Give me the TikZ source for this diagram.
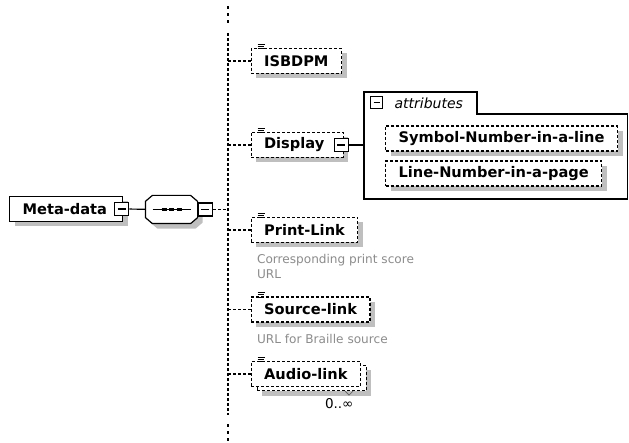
\documentclass[tikz,border=0pt]{standalone}
\usepackage{fontspec}
\setmainfont{DejaVu Sans}
\usetikzlibrary{positioning,shadows}

\newcommand{\notemark}[1]{%
    \draw[line width=.6pt] ([xshift=7pt,yshift=3.8pt]#1.north west) -- ++(7pt,0)
        ([xshift=7pt,yshift=1.6pt]#1.north west) -- ++(6pt,0)
        ([xshift=7pt,yshift=-.6pt]#1.north west) -- ++(6pt,0);}
\newcommand{\seqpath}[1]{%
    ([xshift=7pt]#1.north west) -- ([xshift=-7pt]#1.north east)
    -- ([yshift=-6pt]#1.north east) -- ([yshift=6pt]#1.south east)
    -- ([xshift=-7pt]#1.south east) -- ([xshift=7pt]#1.south west)
    -- ([yshift=6pt]#1.south west) -- ([yshift=-6pt]#1.north west) -- cycle}

\begin{document}
\begin{tikzpicture}[
        x=1pt,y=-1pt,line width=1.2pt,
        every node/.append style={inner sep=0pt},
        shdw/.style={drop shadow={shadow xshift=5pt,shadow yshift=-5pt,fill=black!25,opacity=1}},
        dashln/.style={dash pattern=on 3pt off 2pt},
        elem/.style={draw,fill=white,minimum height=25pt,inner xsep=13pt,align=left,
            font=\fontsize{14.6}{17}\selectfont\bfseries},
        optelem/.style={elem,dashln,shdw},
        expander/.style={draw,fill=white,minimum width=14pt,minimum height=13pt,
            path picture={\draw ([xshift=3pt]path picture bounding box.west)
                -- ([xshift=-3pt]path picture bounding box.east);}},
        desc/.style={align=left,text=black!45,font=\fontsize{12.1}{15}\selectfont},
        mult/.style={font=\fontsize{13.5}{15}\selectfont}
    ]
    \path[use as bounding box,fill=white] (0,0) rectangle (629,443);

    % spine of the sequence
    \coordinate (spinetop) at (228,33);
    \coordinate (spinebot) at (228,415);
    \draw[dashln] (spinetop) -- (spinebot);
    \draw[line width=2.5pt,dash pattern=on 2.5pt off 4.5pt] (228,6.5) -- (228,24);
    \draw[line width=2.5pt,dash pattern=on 2.5pt off 4.5pt] (228,424) -- (228,441);

    % root and compositor
    \node (meta) [elem,text width=87pt,anchor=west,shdw] at (9,209) {Meta-data};
    \node (metaexp) [expander] at ([xshift=-1.5pt]meta.east) {};
    \node (seq) [minimum width=51pt,minimum height=27pt] at (171.5,209.5) {};
    \fill[black!25,transform canvas={shift={(5pt,-5pt)}}] \seqpath{seq};
    \filldraw[fill=white] \seqpath{seq};
    \draw ([xshift=-19pt]seq.center) -- ([xshift=19pt]seq.center);
    \draw[line width=3pt,dash pattern=on 5pt off 2.5pt]
        ([xshift=-9.8pt]seq.center) -- ([xshift=10.2pt]seq.center);
    \node (seqexp) [expander,anchor=west] at (seq.east) {};
    \draw (metaexp) -- (seq);
    \draw[dashln] (seqexp) -- (seqexp -| spinetop);

    % children
    \node (isbdpm) [optelem,anchor=west] at (250.5,61) {ISBDPM};
    \node (display) [optelem,text width=66pt,anchor=west] at (250.5,145) {Display};
    \node (dispexp) [expander] at ([xshift=-2.5pt]display.east) {};
    \node (print) [optelem,anchor=west] at (250.5,230) {Print-Link};
    \node (printdesc) [desc,below right=11pt and 6pt of print.south west]
        {Corresponding print score\\URL};
    \node (source) [optelem,anchor=west] at (250.5,309.5) {Source-link};
    \node (sourcedesc) [desc,below right=11pt and 6pt of source.south west]
        {URL for Braille source};
    \node (audiostack) [optelem,anchor=west] at (256.5,378) {\phantom{Audio-link}};
    \draw[line width=.8pt,black!60] ([xshift=-22pt]audiostack.south east)
        -- ++(4pt,-4pt) -- ++(4pt,4pt);
    \node (audio) [elem,dashln] at ([shift={(-6pt,4pt)}]audiostack.center) {Audio-link};
    \node (audiomult) [mult,below left=11pt and 7pt of audio.south east] {0..∞};

    \notemark{isbdpm}
    \notemark{display}
    \notemark{print}
    \notemark{source}
    \notemark{audio}

    \draw[dashln] (isbdpm.west -| spinetop) -- (isbdpm);
    \draw[dashln] (display.west -| spinetop) -- (display);
    \draw[dashln] (print.west -| spinetop) -- (print);
    \draw[dashln] (source.west -| spinetop) -- (source);
    \draw[dashln] (audio.west -| spinetop) -- (audio);

    % attributes of Display
    \draw (364,199) -- (364,92) -- (477,92) -- (477,114) -- (627.5,114)
        -- (627.5,199) -- cycle;
    \coordinate (attrwest) at (364,145);
    \draw (dispexp) -- (attrwest);
    \node (attrexp) [expander,minimum width=12pt,minimum height=12pt] at (376.5,102.5) {};
    \node (attrlabel) [anchor=west,font=\fontsize{14}{16}\selectfont\itshape]
        at (394,103) {attributes};
    \node (symnum) [optelem,anchor=west] at (385,138.5) {Symbol-Number-in-a-line};
    \node (linenum) [optelem,anchor=west] at (385,173.5) {Line-Number-in-a-page};
\end{tikzpicture}
\end{document}
